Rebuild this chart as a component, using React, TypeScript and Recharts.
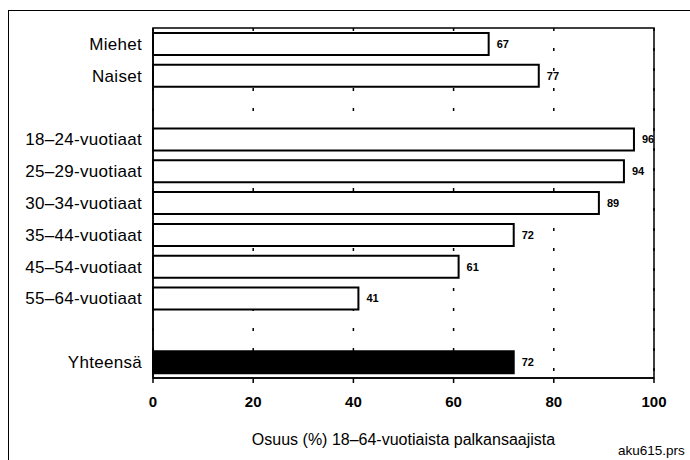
import React from 'react';
import { BarChart, Bar, XAxis, YAxis, CartesianGrid, Cell, LabelList, Label, ReferenceArea } from 'recharts';

// categories (blank rows are the gaps between groups)
const categories = [
  'Miehet',
  'Naiset',
  ' ',
  '18–24-vuotiaat',
  '25–29-vuotiaat',
  '30–34-vuotiaat',
  '35–44-vuotiaat',
  '45–54-vuotiaat',
  '55–64-vuotiaat',
  '  ',
  'Yhteensä',
];
const shares = [67, 77, null, 96, 94, 89, 72, 61, 41, null, 72];
const xTicks = [0, 20, 40, 60, 80, 100];

const data = categories.map((name, i) => ({ name, value: shares[i] }));

const FONT = "'Liberation Sans', Arial, sans-serif";

const App = () => {
  return (
    <div style={{ position: 'absolute', left: 0, top: 0, width: 690, height: 460, background: '#fff', fontFamily: FONT, overflow: 'hidden' }}>
      <div
        style={{
          position: 'absolute',
          left: 8,
          top: 10,
          width: 690,
          height: 460,
          borderTop: '1.5px solid #000',
          borderLeft: '1.5px solid #000',
        }}
      />
      <BarChart
        width={690}
        height={460}
        data={data}
        layout="vertical"
        margin={{ top: 28, right: 36, bottom: 0, left: 0 }}
        barSize={22}
        style={{ position: 'absolute', left: 0, top: 0 }}
      >
        <CartesianGrid horizontal={false} stroke="#000" strokeDasharray="3 17" strokeWidth={1.5} />
        <ReferenceArea x1={0} x2={100} fill="none" stroke="#000" strokeWidth={1.5} />
        <XAxis
          xAxisId="top"
          orientation="top"
          type="number"
          domain={[0, 100]}
          ticks={xTicks}
          height={0}
          axisLine={false}
          tickLine={{ stroke: '#000', strokeWidth: 1.5 }}
          tickSize={-5}
          tick={() => <g />}
        />
        <XAxis
          type="number"
          domain={[0, 100]}
          ticks={xTicks}
          height={82}
          axisLine={{ stroke: '#000', strokeWidth: 1.5 }}
          tickLine={{ stroke: '#000', strokeWidth: 1.5 }}
          tickSize={5}
          tickMargin={13}
          tick={{ fill: '#000', fontSize: 15, fontWeight: 'bold', fontFamily: FONT }}
        >
          <Label
            value="Osuus (%) 18–64-vuotiaista palkansaajista"
            position="insideBottom"
            offset={15}
            style={{ fill: '#000', fontSize: 16, fontFamily: FONT }}
          />
        </XAxis>
        <YAxis
          type="category"
          dataKey="name"
          width={153}
          axisLine={{ stroke: '#000', strokeWidth: 1.5 }}
          tickLine={false}
          tickSize={0}
          tickMargin={11}
          interval={0}
          tick={{ fill: '#000', fontSize: 17, fontFamily: FONT, letterSpacing: 0.3 }}
        />
        <Bar dataKey="value" stroke="#000" strokeWidth={2} isAnimationActive={false}>
          {data.map((d, i) => (
            <Cell key={i} fill={d.name === 'Yhteensä' ? '#000' : '#fff'} />
          ))}
          <LabelList
            dataKey="value"
            position="right"
            offset={8}
            formatter={(v: any) => (v == null ? '' : v)}
            style={{ fill: '#000', fontSize: 11, fontWeight: 'bold', fontFamily: FONT }}
          />
        </Bar>
      </BarChart>
      <div style={{ position: 'absolute', left: 618, top: 443, fontSize: 13.5, color: '#000' }}>aku615.prs</div>
    </div>
  );
};

export default App;
